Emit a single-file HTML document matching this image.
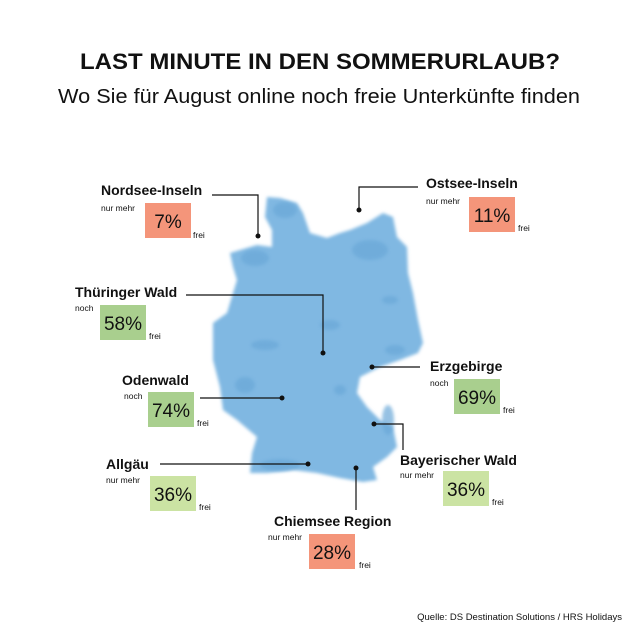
<!DOCTYPE html>
<html><head><meta charset="utf-8"><style>
html,body{margin:0;padding:0;background:#fff;}
svg{display:block;}
text{font-family:"Liberation Sans",sans-serif;}
.lb{font-weight:bold;font-size:14px;fill:#111;}
.sm{font-size:8.5px;fill:#111;}
.pc{font-size:19px;fill:#111;}
</style></head><body>
<svg width="642" height="642" viewBox="0 0 642 642" xmlns="http://www.w3.org/2000/svg">
<defs><filter id="bl"><feGaussianBlur stdDeviation="1.5"/></filter></defs>
<text x="320" y="69" text-anchor="middle" font-weight="bold" font-size="22" textLength="480" lengthAdjust="spacingAndGlyphs" fill="#111">LAST MINUTE IN DEN SOMMERURLAUB?</text>
<text x="319" y="103" text-anchor="middle" font-size="20" textLength="522" lengthAdjust="spacingAndGlyphs" fill="#111">Wo Sie für August online noch freie Unterkünfte finden</text>

<polygon filter="url(#bl)" fill="#80b8e2" points="267,197 280,198 297,203 303,213 310,233 327,238 340,233 350,230 367,223 383,213 393,217 397,237 407,247 408,273 413,293 418,320 423,343 418,353 400,360 380,367 360,377 357,393 367,407 380,420 393,427 397,447 387,457 373,467 377,480 363,482 340,478 317,473 293,470 267,473 250,473 252,453 257,437 237,420 223,410 220,387 213,360 213,323 227,313 233,293 237,280 233,267 230,253 240,250 257,245 272,247 272,230 265,217"/>
<g fill="#6aa8d8" opacity="0.7" filter="url(#bl)">
<ellipse cx="255" cy="258" rx="14" ry="8"/><ellipse cx="370" cy="250" rx="18" ry="10"/><ellipse cx="285" cy="210" rx="12" ry="8"/>
<ellipse cx="330" cy="325" rx="10" ry="5"/><ellipse cx="265" cy="345" rx="14" ry="5"/><ellipse cx="245" cy="385" rx="10" ry="8"/>
<ellipse cx="388" cy="420" rx="6" ry="15"/><ellipse cx="280" cy="465" rx="20" ry="6"/><ellipse cx="395" cy="350" rx="10" ry="5"/>
<ellipse cx="340" cy="390" rx="6" ry="5"/><ellipse cx="390" cy="300" rx="8" ry="4"/>
</g>

<g stroke="#111" stroke-width="1.2" fill="none">
<polyline points="212,195 258,195 258,236"/>
<polyline points="418,187 359,187 359,210"/>
<polyline points="186,295 323,295 323,353"/>
<polyline points="200,398 282,398"/>
<polyline points="160,464 308,464"/>
<polyline points="372,367 420,367"/>
<polyline points="374,424 403,424 403,450"/>
<polyline points="356,468 356,510"/>
</g>
<g fill="#111">
<circle cx="258" cy="236" r="2.5"/><circle cx="359" cy="210" r="2.5"/><circle cx="323" cy="353" r="2.5"/>
<circle cx="282" cy="398" r="2.5"/><circle cx="308" cy="464" r="2.5"/><circle cx="372" cy="367" r="2.5"/>
<circle cx="374" cy="424" r="2.5"/><circle cx="356" cy="468" r="2.5"/>
</g>

<text class="lb" x="101" y="195">Nordsee-Inseln</text>
<text class="sm" x="101" y="211">nur mehr</text>
<rect x="145" y="203" width="46" height="35" fill="#f4957a"/>
<text class="pc" x="168" y="228" text-anchor="middle">7%</text>
<text class="sm" x="193" y="238">frei</text>

<text class="lb" x="426" y="188">Ostsee-Inseln</text>
<text class="sm" x="426" y="204">nur mehr</text>
<rect x="469" y="197" width="46" height="35" fill="#f4957a"/>
<text class="pc" x="492" y="222" text-anchor="middle">11%</text>
<text class="sm" x="518" y="231">frei</text>

<text class="lb" x="75" y="297">Thüringer Wald</text>
<text class="sm" x="75" y="311">noch</text>
<rect x="100" y="305" width="46" height="35" fill="#a9cf8e"/>
<text class="pc" x="123" y="330" text-anchor="middle">58%</text>
<text class="sm" x="149" y="339">frei</text>

<text class="lb" x="122" y="385">Odenwald</text>
<text class="sm" x="124" y="399">noch</text>
<rect x="148" y="392" width="46" height="35" fill="#a9cf8e"/>
<text class="pc" x="171" y="417" text-anchor="middle">74%</text>
<text class="sm" x="197" y="426">frei</text>

<text class="lb" x="106" y="469">Allgäu</text>
<text class="sm" x="106" y="483">nur mehr</text>
<rect x="150" y="476" width="46" height="35" fill="#cbe3a3"/>
<text class="pc" x="173" y="501" text-anchor="middle">36%</text>
<text class="sm" x="199" y="510">frei</text>

<text class="lb" x="430" y="371">Erzgebirge</text>
<text class="sm" x="430" y="386">noch</text>
<rect x="454" y="379" width="46" height="35" fill="#a9cf8e"/>
<text class="pc" x="477" y="404" text-anchor="middle">69%</text>
<text class="sm" x="503" y="413">frei</text>

<text class="lb" x="400" y="465">Bayerischer Wald</text>
<text class="sm" x="400" y="478">nur mehr</text>
<rect x="443" y="471" width="46" height="35" fill="#cbe3a3"/>
<text class="pc" x="466" y="496" text-anchor="middle">36%</text>
<text class="sm" x="492" y="505">frei</text>

<text class="lb" x="274" y="526">Chiemsee Region</text>
<text class="sm" x="268" y="540">nur mehr</text>
<rect x="309" y="534" width="46" height="35" fill="#f4957a"/>
<text class="pc" x="332" y="559" text-anchor="middle">28%</text>
<text class="sm" x="359" y="568">frei</text>

<text x="622" y="620" text-anchor="end" font-size="9.5" fill="#111">Quelle: DS Destination Solutions / HRS Holidays</text>
</svg>
</body></html>
